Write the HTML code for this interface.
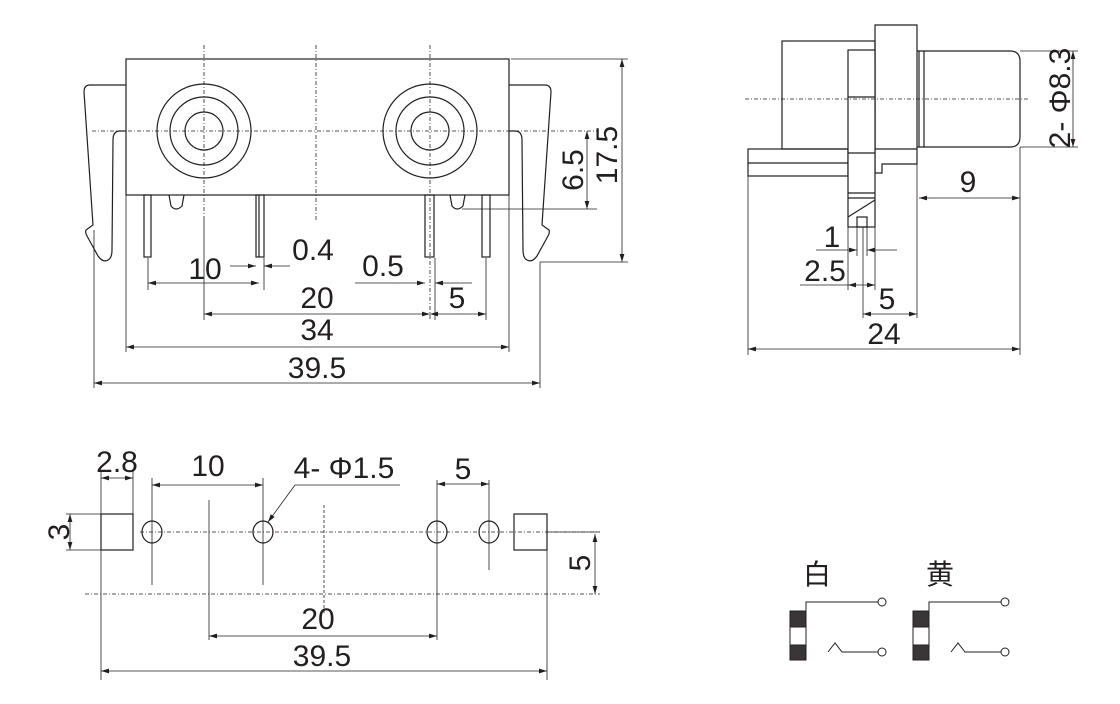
<!DOCTYPE html>
<html><head><meta charset="utf-8"><style>
html,body{margin:0;padding:0;background:#fff;}
svg{display:block;}
text{font-family:"Liberation Sans",Arial,sans-serif;fill:#231f20;}
</style></head><body>
<svg width="1120" height="704" viewBox="0 0 1120 704" xmlns="http://www.w3.org/2000/svg">
<defs>
<marker id="a" viewBox="0 0 10 6" refX="10" refY="3" markerWidth="8" markerHeight="5" orient="auto-start-reverse" markerUnits="userSpaceOnUse"><path d="M0,0L10,3L0,6z" fill="#231f20"/></marker>
</defs>
<g fill="none" stroke="#231f20" stroke-width="1.2">
<rect x="126" y="59" width="383" height="136"/>
<circle cx="204" cy="131" r="47"/><circle cx="204" cy="131" r="34"/><circle cx="204" cy="131" r="19"/>
<circle cx="430" cy="131" r="47"/><circle cx="430" cy="131" r="34"/><circle cx="430" cy="131" r="19"/>
<path d="M126,85 H90 Q84,85 84,92 L93,225 L86,230 Q85,233 87,236 L98,256 Q103,263 108,260 Q112,258 112,250 L113,140 Q113,131 120,131 H126"/>
<path d="M509,85 H545 Q551,85 551,92 L542,225 L549,230 Q550,233 548,236 L537,256 Q532,263 527,260 Q523,258 523,250 L522,140 Q522,131 515,131 H509"/>
<rect x="144" y="195" width="7" height="62"/>
<rect x="256" y="195" width="8" height="62"/><line x1="259" y1="195" x2="259" y2="257"/>
<rect x="425" y="195" width="9" height="62"/>
<rect x="482" y="195" width="8" height="62"/>
<path d="M169,195 L171,206 Q176,212 182,206 L184,195"/>
<path d="M450,195 L452,206 Q457,212 463,206 L465,195"/>
</g>
<g stroke="#231f20" stroke-width="0.8" fill="none">
<line x1="204" y1="45" x2="204" y2="220" stroke-dasharray="4,2,1,2"/>
<line x1="204" y1="220" x2="204" y2="320"/>
<line x1="316" y1="45" x2="316" y2="220" stroke-dasharray="4,2,1,2"/>
<line x1="430" y1="45" x2="430" y2="320" stroke-dasharray="4,2,1,2"/>
<line x1="92" y1="131" x2="597" y2="131" stroke-dasharray="4,2,1,2"/>
<line x1="511" y1="59" x2="628" y2="59"/>
<line x1="540" y1="262" x2="628" y2="262"/>
<line x1="462" y1="209" x2="597" y2="209"/>
<line x1="148" y1="258" x2="148" y2="290"/>
<line x1="264" y1="258" x2="264" y2="290"/>
<line x1="435" y1="258" x2="435" y2="320"/>
<line x1="486" y1="258" x2="486" y2="320"/>
<line x1="126" y1="195" x2="126" y2="352"/>
<line x1="509" y1="195" x2="509" y2="352"/>
<line x1="94" y1="230" x2="94" y2="388"/>
<line x1="540" y1="262" x2="540" y2="388"/>
<line x1="622" y1="59" x2="622" y2="262" marker-start="url(#a)" marker-end="url(#a)"/>
<line x1="587" y1="131" x2="587" y2="209" marker-start="url(#a)" marker-end="url(#a)"/>
<line x1="148" y1="283" x2="259" y2="283" marker-start="url(#a)" marker-end="url(#a)"/>
<line x1="230" y1="266" x2="256" y2="266" marker-end="url(#a)"/>
<line x1="290" y1="266" x2="264" y2="266" marker-end="url(#a)"/>
<line x1="355" y1="283" x2="425" y2="283" marker-end="url(#a)"/>
<line x1="472" y1="283" x2="435" y2="283" marker-end="url(#a)"/>
<line x1="204" y1="314" x2="430" y2="314" marker-start="url(#a)" marker-end="url(#a)"/>
<line x1="430" y1="314" x2="486" y2="314" marker-start="url(#a)" marker-end="url(#a)"/>
<line x1="126" y1="347" x2="509" y2="347" marker-start="url(#a)" marker-end="url(#a)"/>
<line x1="94" y1="383" x2="540" y2="383" marker-start="url(#a)" marker-end="url(#a)"/>
</g>
<g font-size="30" text-anchor="middle">
<text x="205" y="279">10</text>
<text x="313" y="260">0.4</text>
<text x="383" y="276">0.5</text>
<text x="317" y="308">20</text>
<text x="457" y="308">5</text>
<text x="317" y="340">34</text>
<text x="317" y="378">39.5</text>
<text transform="translate(583,170) rotate(-90)">6.5</text>
<text transform="translate(617,155) rotate(-90)">17.5</text>
</g>

<g fill="none" stroke="#231f20" stroke-width="1.2">
<rect x="782" y="41" width="93" height="108"/>
<path d="M875,25 H917 V164 H882 V173 H875 Z"/>
<rect x="748" y="149" width="100" height="27"/>
<line x1="748" y1="163" x2="848" y2="163"/>
<line x1="848" y1="149" x2="917" y2="149"/>
<rect x="848" y="50" width="27" height="177" fill="#fff"/>
<line x1="848" y1="97" x2="875" y2="97"/>
<line x1="848" y1="153" x2="875" y2="153"/>
<line x1="848" y1="193" x2="875" y2="193"/>
<line x1="848" y1="198" x2="875" y2="198"/>
<line x1="848" y1="217" x2="875" y2="200"/>
<rect x="857" y="217" width="10" height="10"/>
<path d="M917,51 H1010 Q1020,51 1020,61 V137 Q1020,147 1010,147 H917"/>
<line x1="919" y1="51" x2="919" y2="147"/>
<line x1="924" y1="51" x2="924" y2="147"/>
</g>
<g stroke="#231f20" stroke-width="0.8" fill="none">
<line x1="745" y1="99" x2="1030" y2="99" stroke-dasharray="4,2,1,2"/>
<line x1="1020" y1="51" x2="1078" y2="51"/>
<line x1="1020" y1="147" x2="1078" y2="147"/>
<line x1="1073" y1="51" x2="1073" y2="147" marker-start="url(#a)" marker-end="url(#a)"/>
<line x1="1020" y1="147" x2="1020" y2="355"/>
<line x1="917" y1="164" x2="917" y2="318"/>
<line x1="919" y1="198" x2="1020" y2="198" marker-start="url(#a)" marker-end="url(#a)"/>
<line x1="748" y1="176" x2="748" y2="355"/>
<line x1="848" y1="227" x2="848" y2="290"/>
<line x1="875" y1="227" x2="875" y2="290"/>
<line x1="857" y1="227" x2="857" y2="256"/>
<line x1="863" y1="227" x2="863" y2="318"/>
<line x1="867" y1="227" x2="867" y2="256"/>
<line x1="816" y1="250" x2="857" y2="250" marker-end="url(#a)"/>
<line x1="897" y1="250" x2="867" y2="250" marker-end="url(#a)"/>
<line x1="800" y1="285" x2="848" y2="285"/>
<line x1="848" y1="285" x2="875" y2="285" marker-start="url(#a)" marker-end="url(#a)"/>
<line x1="863" y1="314" x2="917" y2="314" marker-start="url(#a)" marker-end="url(#a)"/>
<line x1="748" y1="349" x2="1020" y2="349" marker-start="url(#a)" marker-end="url(#a)"/>
</g>
<g font-size="30" text-anchor="middle">
<text x="968" y="192">9</text>
<text x="832" y="247">1</text>
<text x="825" y="281">2.5</text>
<text x="887" y="309">5</text>
<text x="884" y="344">24</text>
<text transform="translate(1070,98) rotate(-90)">2- Φ8.3</text>
</g>

<g fill="none" stroke="#231f20" stroke-width="1.2">
<rect x="101" y="514" width="32" height="36"/>
<rect x="514" y="514" width="33" height="36"/>
<ellipse cx="152" cy="532" rx="10" ry="11"/>
<ellipse cx="263" cy="532" rx="10" ry="11"/>
<ellipse cx="437" cy="532" rx="10" ry="11"/>
<ellipse cx="489" cy="532" rx="10" ry="11"/>
</g>
<g stroke="#231f20" stroke-width="0.8" fill="none">
<line x1="140" y1="532" x2="600" y2="532" stroke-dasharray="4,2,1,2"/>
<line x1="85" y1="594" x2="600" y2="594" stroke-dasharray="4,2,1,2"/>
<line x1="324" y1="505" x2="324" y2="615" stroke-dasharray="3,2"/>
<line x1="101" y1="470" x2="101" y2="680"/>
<line x1="133" y1="470" x2="133" y2="514"/>
<line x1="101" y1="478" x2="133" y2="478" marker-start="url(#a)" marker-end="url(#a)"/>
<line x1="66" y1="514" x2="101" y2="514"/>
<line x1="66" y1="550" x2="101" y2="550"/>
<line x1="70" y1="514" x2="70" y2="550" marker-start="url(#a)" marker-end="url(#a)"/>
<line x1="152" y1="478" x2="152" y2="585"/>
<line x1="263" y1="478" x2="263" y2="585"/>
<line x1="152" y1="485" x2="263" y2="485" marker-start="url(#a)" marker-end="url(#a)"/>
<line x1="437" y1="480" x2="437" y2="640"/>
<line x1="489" y1="480" x2="489" y2="570"/>
<line x1="437" y1="484" x2="489" y2="484" marker-start="url(#a)" marker-end="url(#a)"/>
<line x1="209" y1="500" x2="209" y2="640"/>
<line x1="209" y1="636" x2="437" y2="636" marker-start="url(#a)" marker-end="url(#a)"/>
<line x1="547" y1="514" x2="547" y2="680"/>
<line x1="101" y1="671" x2="547" y2="671" marker-start="url(#a)" marker-end="url(#a)"/>
<line x1="547" y1="532" x2="600" y2="532"/>
<line x1="595" y1="534" x2="595" y2="594" marker-start="url(#a)" marker-end="url(#a)"/>
<line x1="400" y1="485" x2="295" y2="485"/>
<line x1="295" y1="485" x2="268" y2="522" marker-end="url(#a)"/>
</g>
<g font-size="30" text-anchor="middle">
<text x="117" y="472">2.8</text>
<text x="208" y="476">10</text>
<text x="344" y="478">4- Φ1.5</text>
<text x="463" y="479">5</text>
<text x="318" y="629">20</text>
<text x="322" y="666">39.5</text>
<text transform="translate(69,532) rotate(-90)">3</text>
<text transform="translate(590,563) rotate(-90)">5</text>
</g>

<g font-size="28" text-anchor="middle">
<text x="817" y="584" style="font-family:'Noto Sans CJK SC',sans-serif">白</text>
<text x="940" y="584" style="font-family:'Noto Sans CJK SC',sans-serif">黄</text>
</g>
<g stroke="#231f20" stroke-width="1" fill="none">
<rect x="790" y="611" width="16" height="49"/>
<rect x="790" y="611" width="16" height="16" fill="#3a3536"/>
<rect x="790" y="645" width="16" height="15" fill="#3a3536"/>
<path d="M806,611 V602 H878"/><circle cx="882" cy="602" r="4"/>
<path d="M828,652 L835,643 L842,652 H878"/><circle cx="882" cy="652" r="4"/>
<rect x="913" y="611" width="16" height="49"/>
<rect x="913" y="611" width="16" height="16" fill="#3a3536"/>
<rect x="913" y="645" width="16" height="15" fill="#3a3536"/>
<path d="M929,611 V602 H1001"/><circle cx="1005" cy="602" r="4"/>
<path d="M951,652 L958,643 L965,652 H1001"/><circle cx="1005" cy="652" r="4"/>
</g>
</svg>
</body></html>
